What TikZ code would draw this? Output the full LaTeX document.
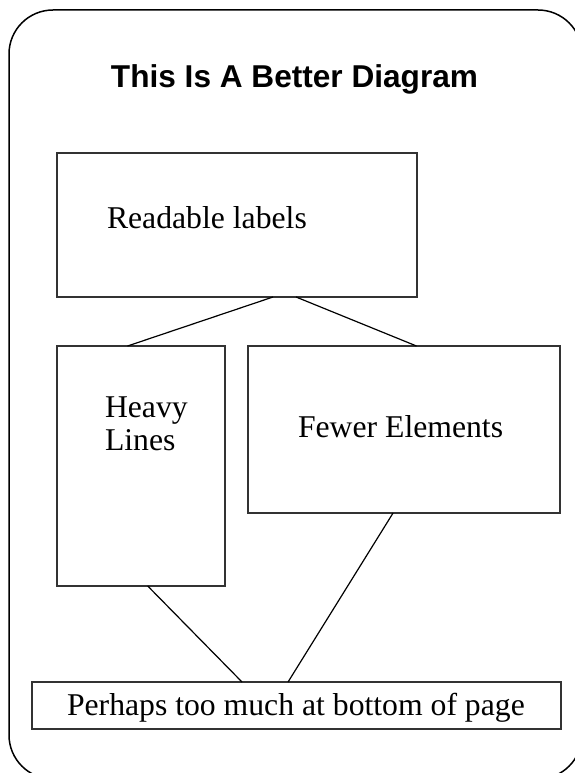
\documentclass[tikz,border=0pt]{standalone}
\usepackage{fontspec}
\setmainfont{Liberation Serif}
\newfontfamily\titlefont{Liberation Sans}
\usetikzlibrary{calc}
\definecolor{boxline}{RGB}{51,51,51}
\tikzset{
  boxnode/.style={draw=boxline, line width=1.6pt, inner sep=0pt, outer sep=0pt, rectangle},
  lbl/.style={inner sep=0pt, outer sep=0pt, anchor=base west, font=\fontsize{31.7}{33}\selectfont},
  conn/.style={draw=black, line width=1.2pt},
}
\begin{document}
\begin{tikzpicture}[x=1pt, y=-1pt]
\useasboundingbox (0,0) rectangle (575,773);
\draw[line width=1.5pt, rounded corners=44pt] (9,10) rectangle (582,779);
\node[inner sep=0pt, anchor=base, font=\titlefont\bfseries\fontsize{31.6}{33}\selectfont] (title) at (294.5,88) {This Is A Better Diagram};
% boxes
\node[boxnode, minimum width=360pt, minimum height=144pt] (r) at (237,225) {};
\node[boxnode, minimum width=168pt, minimum height=240pt] (h) at (141,466) {};
\node[boxnode, minimum width=312pt, minimum height=167pt] (f) at (404,429.5) {};
\node[boxnode, minimum width=529pt, minimum height=47pt] (b) at (296.5,705.5) {};
% labels
\node[lbl] (rt) at (107,228) {Readable labels};
\node[lbl] (ht1) at (105,417) {Heavy};
\node[lbl] (ht2) at (105,450) {Lines};
\node[lbl] (ft) at (298,437) {Fewer Elements};
\node[lbl] (bt) at (67,715) {Perhaps too much at bottom of page};
% connectors
\draw[conn] ($(r.south west)!0.6!(r.south east)$) -- ($(h.north west)!0.42!(h.north east)$);
\draw[conn] ($(r.south west)!0.664!(r.south east)$) -- ($(f.north west)!0.54!(f.north east)$);
\draw[conn] ($(h.south west)!0.54!(h.south east)$) -- ($(b.north west)!0.397!(b.north east)$);
\draw[conn] ($(f.south west)!0.465!(f.south east)$) -- ($(b.north west)!0.484!(b.north east)$);
\end{tikzpicture}
\end{document}
